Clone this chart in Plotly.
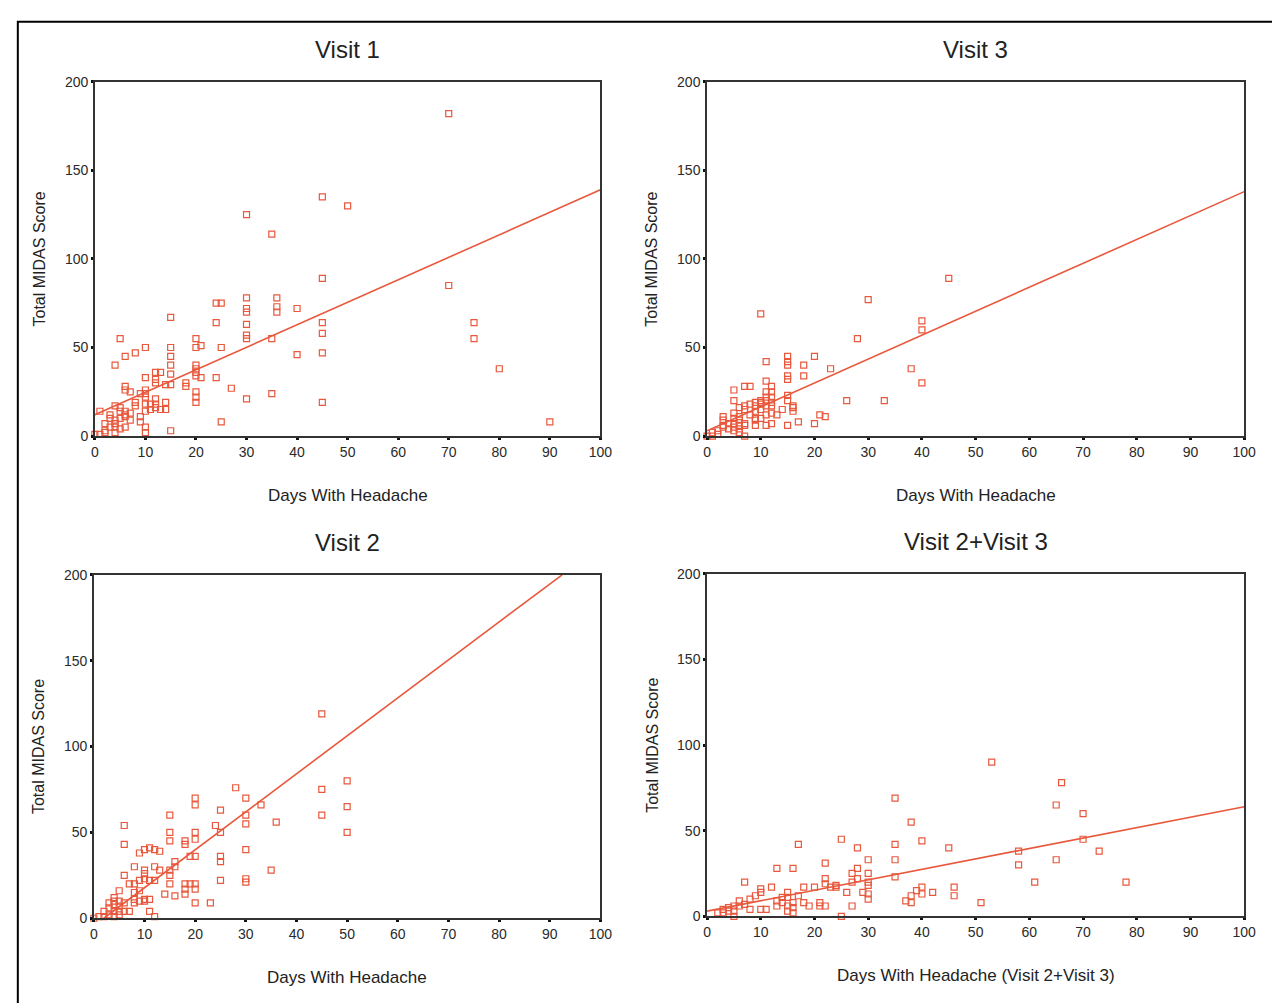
import plotly.graph_objects as go

# ---------------- data ----------------
v1_x = [70,45,50,30,35,45,70,30,30,30,36,36,36,40,24,25,24,30,30,30,35,45,45,45,40,75,75,80,90,45,30,35,27,24,25,25,20,20,21,20,20,20,21,20,20,20,20,15,15,15,15,15,15,15,18,18,14,13,12,12,12,10,10,10,10,10,9,8,6,5,4,6,6,7,
        8,8,10,11,12,12,12,14,14,13,11,10,9,9,10,10,4,5,6,6,7,3,4,4,2,3,4,5,6,2,1,1,0,5,7,6,3,5,4,2]
v1_y = [182,135,130,125,114,89,85,78,72,70,78,73,70,72,75,75,64,63,57,55,55,64,58,47,46,64,55,38,8,19,21,24,27,33,8,50,55,50,51,40,38,36,33,25,22,19,34,67,50,45,40,35,29,3,30,28,29,36,36,32,30,50,33,26,24,22,24,47,45,55,40,28,26,25,
        19,17,18,18,21,18,16,19,15,15,15,14,11,8,5,2,17,14,12,11,9,12,9,7,7,5,5,4,5,3,14,1,1,16,13,14,10,10,2,2]

v3_x = [45,30,10,40,40,28,20,15,15,15,11,18,23,38,15,15,18,40,11,5,7,8,12,12,11,15,5,26,33,11,12,12,9,10,15,7,7,16,16,5,6,10,11,9,14,13,12,11,3,3,5,6,6,9,10,12,11,17,20,21,22,15,9,7,7,1,2,3,4,5,6,6,2,1,0,4,3,5,6,10,8,9,10,11,12,16,5,7,9,8]
v3_y = [89,77,69,65,60,55,45,45,42,40,42,40,38,38,34,32,34,30,31,26,28,28,28,25,25,23,20,20,20,22,22,19,19,19,20,17,15,16,14,13,16,15,17,14,15,12,13,12,11,9,10,11,9,9,10,7,6,8,7,12,11,6,6,6,0,2,3,6,4,3,4,6,1,0,0,7,5,5,2,20,18,17,18,20,17,17,7,7,10,12]

v2_x = [45,50,45,28,30,20,20,33,25,50,15,30,45,36,30,6,24,50,15,15,20,20,25,18,18,6,9,10,11,12,13,30,19,20,25,25,16,16,12,8,13,35,6,10,10,15,15,9,10,11,12,25,30,30,15,7,8,18,19,20,18,20,5,8,9,14,16,18,11,20,23,8,8,9,10,10,11,12,7,1,2,3,4,4,4,4,4,5,5,5,6,6,3,2,0,3,5]
v2_y = [119,80,75,76,70,70,66,66,63,65,60,60,60,56,55,54,54,50,50,45,50,46,50,45,43,43,38,40,41,40,39,40,36,36,36,33,33,30,30,30,28,28,25,28,26,28,25,22,23,22,22,22,23,21,20,20,20,20,20,20,17,17,16,15,16,14,13,14,11,9,9,9,11,10,10,11,4,1,4,1,4,6,8,10,12,4,1,7,4,2,9,4,2,1,0,9,10]

v23_x = [53,66,35,65,70,38,25,40,70,17,35,28,45,58,73,35,30,65,22,13,16,28,58,27,28,30,35,7,61,78,22,22,27,30,30,24,23,24,12,18,20,10,10,26,29,30,30,40,39,40,42,46,46,38,37,38,51,9,8,15,15,14,17,13,13,14,16,16,16,18,19,21,21,22,27,25,6,7,6,8,10,11,5,5,5,4,4,3,3,2,15,15]
v23_y = [90,78,69,65,60,55,45,44,45,42,42,40,40,38,38,33,33,33,31,28,28,28,30,25,22,25,23,20,20,20,22,19,20,20,18,18,17,17,17,17,17,16,14,14,14,13,10,17,15,13,14,17,12,12,9,8,8,12,10,14,11,11,12,9,6,8,8,5,2,8,6,8,6,6,6,0,9,7,6,4,4,4,6,3,0,5,3,4,2,2,3,6]

# regression lines: intercept, slope
fit_intercept = [12, 3, -4.3, 3]
fit_slope = [1.27, 1.35, 2.21, 0.61]

titles = ["Visit 1", "Visit 3", "Visit 2", "Visit 2+Visit 3"]
xtitles = ["Days With Headache", "Days With Headache", "Days With Headache",
           "Days With Headache (Visit 2+Visit 3)"]
ytitle = "Total MIDAS Score"
x_ticks = [0, 10, 20, 30, 40, 50, 60, 70, 80, 90, 100]
y_ticks = [0, 50, 100, 150, 200]

W, H = 1272, 1003
# plot-area pixel boxes (left, right, top, bottom)
boxes = [(92, 604, 75, 435), (712, 1256, 75, 435), (91, 604, 576, 925), (712, 1256, 575, 923)]

COL = "#e8583c"
FONT = "Liberation Sans, Arial, sans-serif"

fig = go.Figure()
layout = dict(width=W, height=H, margin=dict(l=0, r=0, t=0, b=0),
              paper_bgcolor="white", plot_bgcolor="white", showlegend=False,
              font=dict(family=FONT, color="#222"))
annotations = []
series = [(v1_x, v1_y), (v3_x, v3_y), (v2_x, v2_y), (v23_x, v23_y)]

for i, ((xs, ys), (l, r, t, b)) in enumerate(zip(series, boxes)):
    n = "" if i == 0 else str(i + 1)
    xa, ya = "x" + n, "y" + n
    fig.add_trace(go.Scatter(x=xs, y=ys, mode="markers", xaxis=xa, yaxis=ya,
                             cliponaxis=False,
                             marker=dict(symbol="square-open", size=6, color=COL,
                                         line=dict(width=1.2, color=COL))))
    b0, m = fit_intercept[i], fit_slope[i]
    xs0 = max(0, -b0 / m)
    xs1 = min(100, (200 - b0) / m)
    fig.add_trace(go.Scatter(x=[xs0, xs1], y=[b0 + m * xs0, b0 + m * xs1], mode="lines",
                             xaxis=xa, yaxis=ya, line=dict(color=COL, width=1.6)))
    layout["xaxis" + n] = dict(domain=[l / W, r / W], anchor=ya, range=[0, 100],
                               tickvals=x_ticks, showgrid=False, zeroline=False,
                               showline=True, linecolor="#333", linewidth=1.6, mirror=True,
                               ticks="outside", ticklen=2, tickwidth=3, tickcolor="#111",
                               tickfont=dict(size=14, color="#2a2a2a", family=FONT))
    layout["yaxis" + n] = dict(domain=[1 - b / H, 1 - t / H], anchor=xa, range=[0, 200],
                               tickvals=y_ticks, showgrid=False, zeroline=False,
                               showline=True, linecolor="#333", linewidth=1.6, mirror=True,
                               ticks="outside", ticklen=2, tickwidth=3, tickcolor="#111",
                               tickfont=dict(size=14, color="#2a2a2a", family=FONT))
    cx = (l + r) / 2
    annotations.append(dict(text=titles[i], x=cx / W, y=1 - (t - 33) / H, xref="paper", yref="paper",
                            showarrow=False, font=dict(size=24, color="#222", family=FONT),
                            xanchor="center", yanchor="middle"))
    annotations.append(dict(text=xtitles[i], x=cx / W, y=1 - (b + 60) / H, xref="paper", yref="paper",
                            showarrow=False, font=dict(size=17, color="#222", family=FONT),
                            xanchor="center", yanchor="middle"))
    annotations.append(dict(text=ytitle, x=(l - 56) / W, y=1 - ((t + b) / 2) / H, xref="paper", yref="paper",
                            showarrow=False, textangle=-90, font=dict(size=16, color="#222", family=FONT),
                            xanchor="center", yanchor="middle"))

layout["annotations"] = annotations
layout["shapes"] = [dict(type="rect", xref="paper", yref="paper", x0=14 / W, x1=1.02,
                         y0=-0.02, y1=1 - 14 / H, line=dict(color="black", width=2))]
fig.update_layout(**layout)
fig.write_html("out.html", config={"displayModeBar": False},
               post_script="document.body.style.margin='0px';document.body.style.overflow='hidden';")
